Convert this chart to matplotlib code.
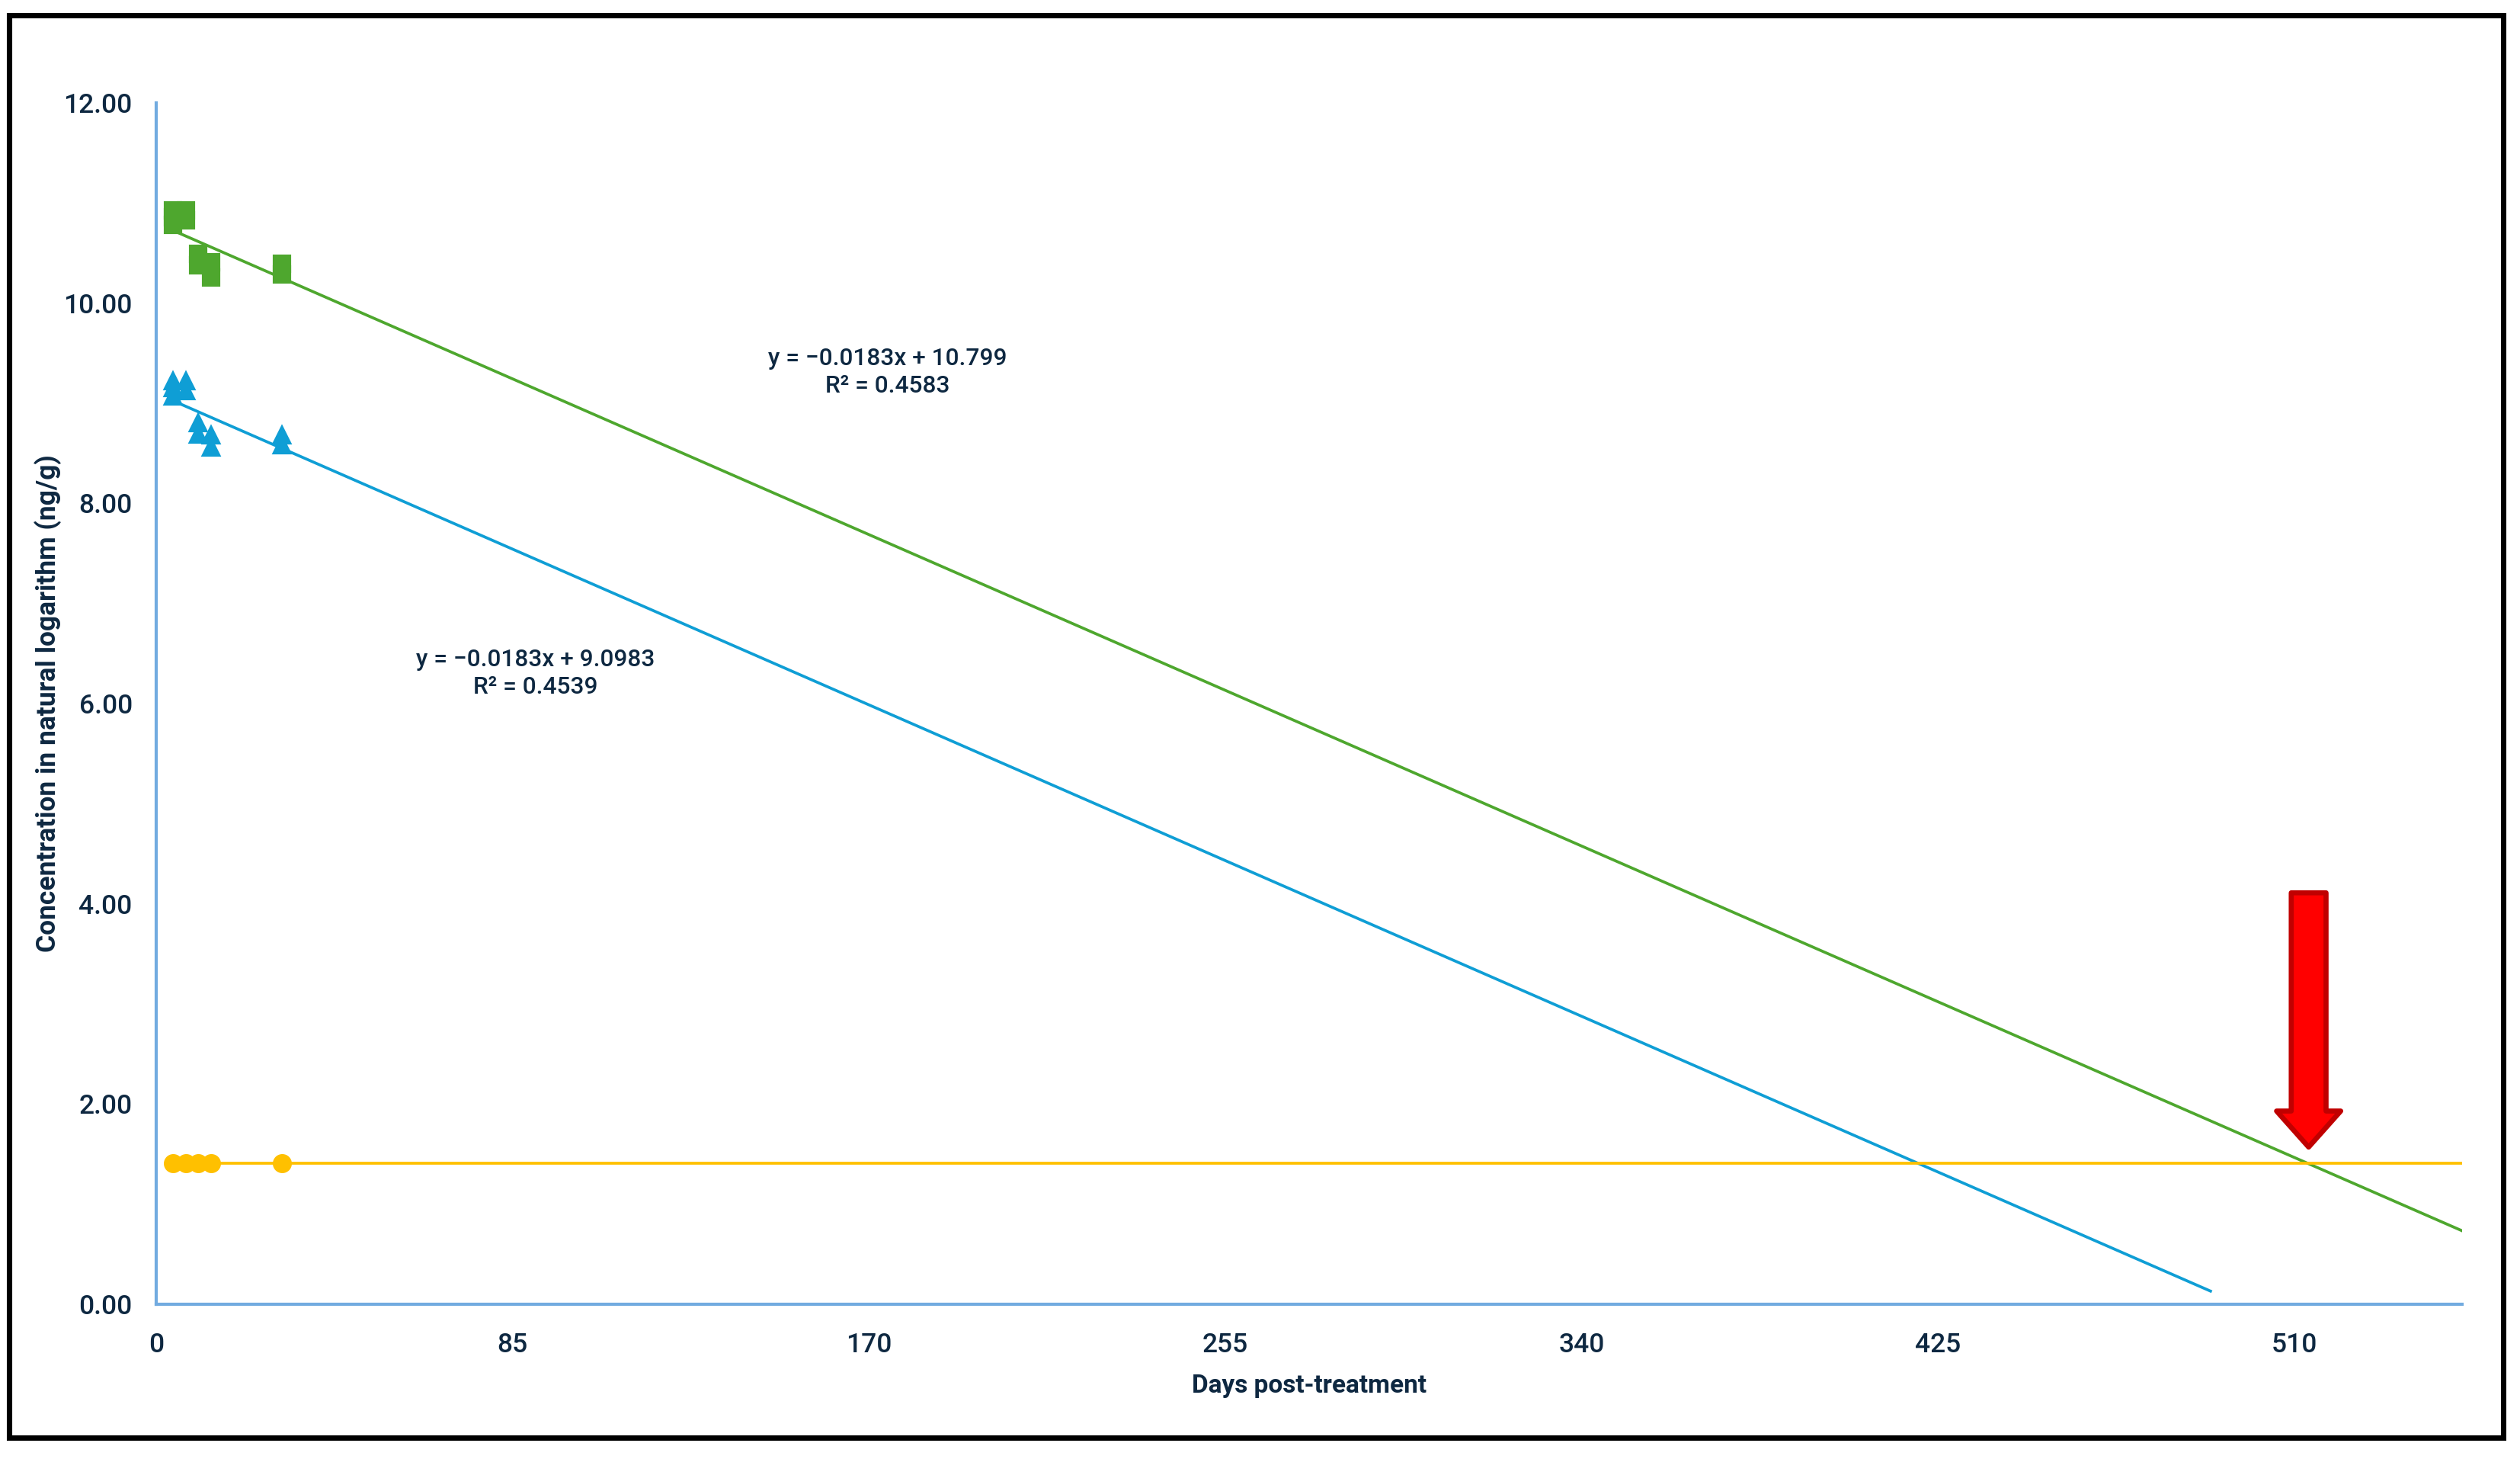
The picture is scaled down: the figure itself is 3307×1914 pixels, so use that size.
import matplotlib
matplotlib.use("Agg")
import matplotlib.pyplot as plt
from matplotlib.patches import FancyArrow, Rectangle

plt.rcParams['font.family'] = ['Roboto', 'DejaVu Sans']

# measured points (ln concentration) by day
green_days = [4, 4, 4, 7, 7, 10, 10, 13, 13, 30, 30]
green_vals = [10.93, 10.86, 10.78, 10.93, 10.83, 10.49, 10.38, 10.41, 10.26, 10.39, 10.29]

blue_days = [4, 4, 4, 7, 7, 10, 10, 13, 13, 30, 30]
blue_vals = [9.22, 9.15, 9.07, 9.22, 9.12, 8.80, 8.69, 8.68, 8.56, 8.68, 8.58]

yellow_days = [4, 7, 10, 13, 30]
yellow_vals = [1.41, 1.41, 1.41, 1.41, 1.41]

# trendlines as reported on the chart
green_fit = (-0.0183, 10.799)
blue_fit = (-0.0183, 9.0983)
green_range = (4, 550)
blue_range = (4, 490)
yellow_range = (4, 550)

x_ticks = [0, 85, 170, 255, 340, 425, 510]
y_ticks = [0, 2, 4, 6, 8, 10, 12]

GREEN = '#4EA72E'
BLUE = '#0F9ED5'
YELLOW = '#FFC000'
TXT = '#0E2841'
AXC = '#72ABE0'

fig = plt.figure(figsize=(3307 / 300, 1914 / 300), dpi=300)
ax = fig.add_axes([205 / 3307, 1 - 1711 / 1914, 3026 / 3307, 1576 / 1914])

# trendlines
for (m, b), (x0, x1), c in [(green_fit, green_range, GREEN), (blue_fit, blue_range, BLUE)]:
    ax.plot([x0, x1], [m * x0 + b, m * x1 + b], color=c, lw=0.9, zorder=2)
ax.plot(yellow_range, [yellow_vals[0]] * 2, color=YELLOW, lw=0.9, zorder=2)

# points
ax.plot(green_days, green_vals, 's', color=GREEN, ms=5, mec=GREEN, zorder=3)
ax.plot(blue_days, blue_vals, '^', color=BLUE, ms=5, mec=BLUE, zorder=3)
ax.plot(yellow_days, yellow_vals, 'o', color=YELLOW, ms=5, mec=YELLOW, zorder=3)

ax.text(174.5, 9.31, 'y = \u22120.0183x + 10.799\nR\u00b2 = 0.4583', ha='center', va='center',
        fontsize=7.6, fontweight=500, color=TXT, linespacing=1.3)
ax.text(90.5, 6.30, 'y = \u22120.0183x + 9.0983\nR\u00b2 = 0.4539', ha='center', va='center',
        fontsize=7.6, fontweight=500, color=TXT, linespacing=1.3)

# red arrow pointing at the intersection
ax.add_patch(FancyArrow(513.4, 4.11, 0, -2.54 + 0.36, width=8.3, head_width=15.3,
                        head_length=0.36, length_includes_head=False,
                        facecolor='#FF0000', edgecolor='#C00000', lw=1.6, zorder=5,
                        joinstyle='round'))

ax.set_xlim(0, 550)
ax.set_ylim(0, 12)
ax.set_xticks(x_ticks)
ax.set_yticks(y_ticks)
ax.set_yticklabels(['%.2f' % v for v in y_ticks])
ax.tick_params(length=0, labelsize=8.5, colors=TXT)
ax.tick_params(axis='x', pad=9)
ax.tick_params(axis='y', pad=7.5)
for lab in ax.get_xticklabels() + ax.get_yticklabels():
    lab.set_fontweight(500)

for s in ['top', 'right']:
    ax.spines[s].set_visible(False)
for s in ['left', 'bottom']:
    ax.spines[s].set_color(AXC)
    ax.spines[s].set_linewidth(1.0)

ax.set_xlabel('Days post-treatment', fontsize=8, fontweight='bold', color=TXT)
ax.set_ylabel('Concentration in natural logarithm (ng/g)', fontsize=8.5, fontweight='bold', color=TXT)
ax.xaxis.set_label_coords(0.5, -0.068)
ax.yaxis.set_label_coords(-0.047, 0.5)
ax.xaxis.label.set_va('center')
ax.yaxis.label.set_va('center')

# outer frame
fig.patches.append(Rectangle((12 / 3307, 1 - 1886 / 1914), 3273 / 3307, 1866 / 1914,
                             transform=fig.transFigure, fill=False, ec='black', lw=1.7))

fig.savefig('out.png', dpi=300)
